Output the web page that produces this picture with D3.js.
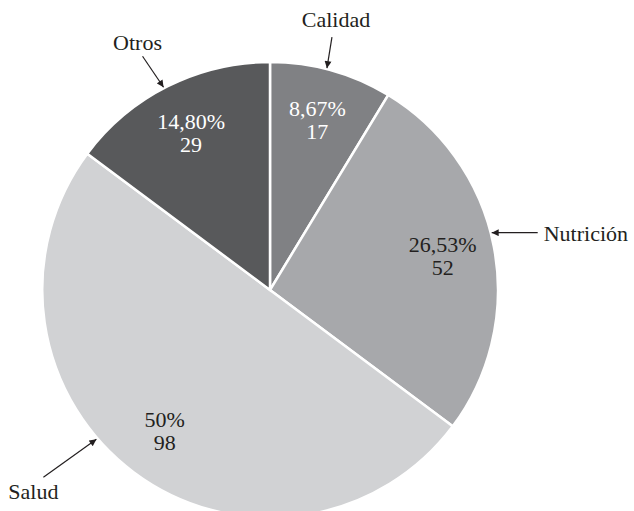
<!DOCTYPE html>
<html>
<head>
<meta charset="utf-8">
<script src="https://cdn.jsdelivr.net/npm/d3@7"></script>
<style>
  html, body { margin: 0; padding: 0; background: #fff; }
  text { font-family: "Liberation Serif", "Times New Roman", serif; }
</style>
</head>
<body>
<div id="chart"></div>
<script>
// data
const categories = ['Calidad', 'Nutrición', 'Salud', 'Otros'];
const counts = [17, 52, 98, 29];
const percentLabels = ['8,67%', '26,53%', '50%', '14,80%'];

// slice fills and label colours
const fills = ['#808184', '#a7a8ab', '#d1d2d4', '#58595b'];
const inkColors = ['#ffffff', '#231f20', '#231f20', '#ffffff'];

const width = 634;
const height = 511;
const cx = 270;
const cy = 290;
const radius = 228;

// callout layout: tip angle on the rim (deg), tail offset, text offset from tail
const callouts = {
    'Calidad':   { angle: 14.4,  tail: [5, -31],  text: [4, -10],  anchor: 'middle' },
    'Nutrición': { angle: 75.5,  tail: [46, 0],   text: [6, 8],    anchor: 'start' },
    'Salud':     { angle: 229.3, tail: [-53, 38], text: [-10, 22], anchor: 'middle' },
    'Otros':     { angle: 332.3, tail: [-21, -31], text: [-5, -6], anchor: 'middle' }
};

const dataset = categories.map((c, i) => ({
    name: c,
    value: counts[i],
    pct: percentLabels[i],
    fill: fills[i],
    ink: inkColors[i]
}));

const svg = d3.select('#chart')
    .append('svg')
    .attr('width', width)
    .attr('height', height);

// arrow head marker
svg.append('defs')
    .append('marker')
    .attr('id', 'head')
    .attr('viewBox', '0 0 10 10')
    .attr('refX', 10)
    .attr('refY', 5)
    .attr('markerUnits', 'userSpaceOnUse')
    .attr('markerWidth', 8)
    .attr('markerHeight', 7)
    .attr('orient', 'auto')
    .append('path')
    .attr('d', 'M0,0 L10,5 L0,10 Z')
    .style('fill', '#231f20');

const g = svg.append('g')
    .attr('transform', `translate(${cx}, ${cy})`);

const pie = d3.pie()
    .value((d) => d.value)
    .sort(null);

const arc = d3.arc()
    .innerRadius(0)
    .outerRadius(radius);

const labelArc = d3.arc()
    .innerRadius(176)
    .outerRadius(176);

const arcs = pie(dataset);

// slices
g.selectAll('path.slice')
    .data(arcs)
    .enter()
    .append('path')
    .attr('class', 'slice')
    .attr('d', arc)
    .style('fill', (d) => d.data.fill)
    .style('stroke', '#fff')
    .style('stroke-width', 2.5)
    .style('stroke-linejoin', 'miter');

// inner labels: percent and count
const inner = g.selectAll('text.inner')
    .data(arcs)
    .enter()
    .append('text')
    .attr('class', 'inner')
    .attr('transform', (d) => `translate(${labelArc.centroid(d)})`)
    .attr('text-anchor', 'middle')
    .style('font-size', '22px')
    .style('fill', (d) => d.data.ink);

inner.append('tspan')
    .attr('x', 0)
    .attr('y', -4)
    .text((d) => d.data.pct);

inner.append('tspan')
    .attr('x', 0)
    .attr('y', 19)
    .text((d) => d.data.value);

// callouts with arrows
arcs.forEach((d) => {
    const c = callouts[d.data.name];
    const tip = d3.pointRadial(c.angle * Math.PI / 180, radius + 1);
    const tail = [tip[0] + c.tail[0], tip[1] + c.tail[1]];

    g.append('line')
        .attr('x1', tail[0])
        .attr('y1', tail[1])
        .attr('x2', tip[0])
        .attr('y2', tip[1])
        .style('stroke', '#231f20')
        .style('stroke-width', 1.2)
        .attr('marker-end', 'url(#head)');

    g.append('text')
        .attr('x', tail[0] + c.text[0])
        .attr('y', tail[1] + c.text[1])
        .attr('text-anchor', c.anchor)
        .style('font-size', '22px')
        .style('fill', '#231f20')
        .text(d.data.name);
});
</script>
</body>
</html>
